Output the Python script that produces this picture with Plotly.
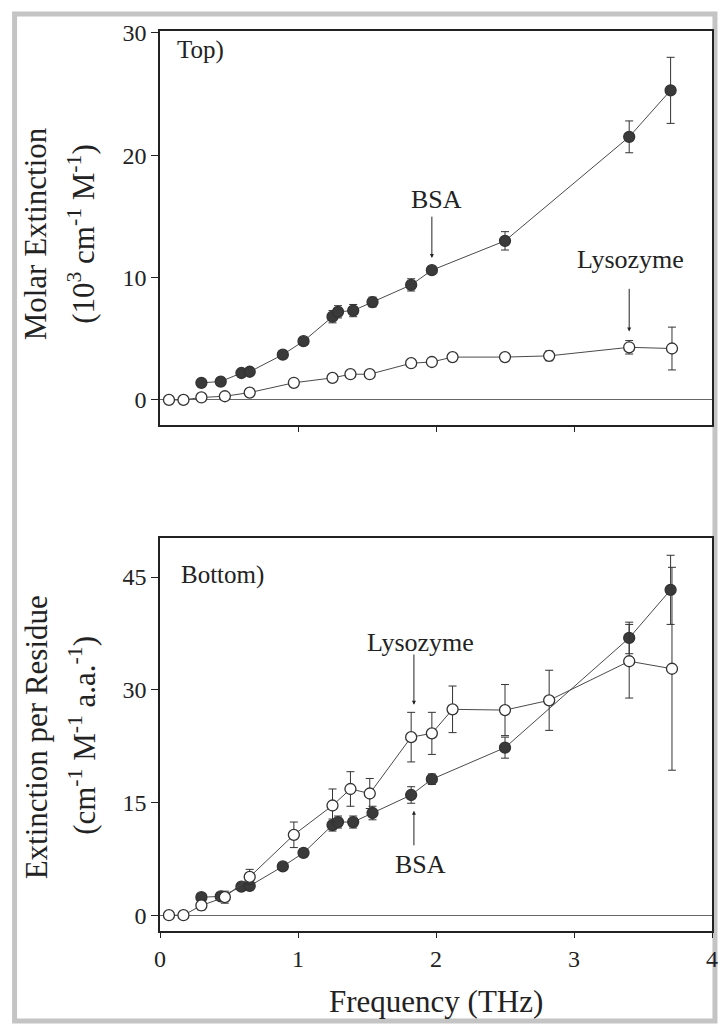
import plotly.graph_objects as go

# Frequencies (THz)
bsa_freq = [0.30, 0.44, 0.59, 0.65, 0.89, 1.04, 1.25, 1.29, 1.40, 1.54, 1.82, 1.97, 2.50, 3.40, 3.70]
lyso_freq = [0.065, 0.17, 0.30, 0.47, 0.65, 0.97, 1.25, 1.38, 1.52, 1.82, 1.97, 2.12, 2.50, 2.82, 3.40, 3.71]

# Top: molar extinction (10^3 cm^-1 M^-1)
bsa_molar = [1.4, 1.5, 2.2, 2.3, 3.7, 4.8, 6.8, 7.2, 7.3, 8.0, 9.4, 10.6, 13.0, 21.5, 25.3]
bsa_molar_err = [0.2, 0.2, 0.3, 0.3, 0.3, 0.3, 0.5, 0.5, 0.5, 0.4, 0.5, 0.3, 0.75, 1.3, 2.7]
lyso_molar = [0.0, 0.0, 0.2, 0.3, 0.6, 1.4, 1.8, 2.1, 2.1, 3.0, 3.1, 3.5, 3.5, 3.6, 4.3, 4.2]
lyso_molar_err = [0.3, 0.3, 0.3, 0.3, 0.3, 0.2, 0.2, 0.2, 0.2, 0.2, 0.2, 0.2, 0.3, 0.4, 0.55, 1.75]

# Bottom: extinction per residue (cm^-1 M^-1 a.a.^-1)
bsa_res = [2.4, 2.5, 3.8, 3.9, 6.5, 8.3, 12.0, 12.4, 12.4, 13.6, 16.0, 18.1, 22.3, 36.9, 43.3]
bsa_res_err = [0.5, 0.5, 0.5, 0.5, 0.4, 0.5, 0.8, 0.8, 0.8, 0.9, 1.1, 0.7, 1.4, 2.1, 4.6]
lyso_res = [0.0, 0.0, 1.3, 2.4, 5.1, 10.7, 14.6, 16.8, 16.2, 23.7, 24.2, 27.4, 27.3, 28.6, 33.8, 32.8]
lyso_res_err = [0.3, 0.3, 0.6, 0.8, 1.0, 1.7, 2.2, 2.3, 2.0, 3.3, 2.8, 3.1, 3.4, 4.0, 4.9, 13.5]

x_ticks = [0, 1, 2, 3, 4]
top_ticks = [0, 10, 20, 30]
bottom_ticks = [0, 15, 30, 45]

FONT = "Liberation Serif, Times New Roman, Times, serif"
INK = "#222222"
LINE = "#4a4a4a"


def series(x, y, err, filled, xa, ya):
    return go.Scatter(
        x=x, y=y, xaxis=xa, yaxis=ya, mode="lines+markers",
        line=dict(color=LINE, width=1),
        marker=dict(size=11, color="#3a3a3a" if filled else "white",
                    line=dict(color="#333333", width=1.3)),
        error_y=dict(type="data", array=err, visible=True,
                     color="#333333", thickness=1, width=4),
        showlegend=False,
    )


fig = go.Figure()
fig.add_trace(series(lyso_freq, lyso_molar, lyso_molar_err, False, "x", "y"))
fig.add_trace(series(bsa_freq, bsa_molar, bsa_molar_err, True, "x", "y"))
fig.add_trace(series(bsa_freq, bsa_res, bsa_res_err, True, "x2", "y2"))
fig.add_trace(series(lyso_freq, lyso_res, lyso_res_err, False, "x2", "y2"))

axis_common = dict(showline=True, mirror=True, linecolor=INK, linewidth=1.5,
                   showgrid=False, ticks="outside", tickcolor=INK, tickwidth=1.2,
                   ticklabeloverflow="allow",
                   tickfont=dict(family=FONT, size=24, color=INK))

# Pixel layout: plot area spans x 160..718, y 31..931
W, H = 722, 1024
L, R, T, B = 160, 4, 31, 93
PW, PH = W - L - R, H - T - B


def px(xp):
    return (xp - L) / PW


def py(yp):
    return (H - B - yp) / PH


fig.update_layout(
    width=W, height=H,
    margin=dict(l=L, r=R, t=T, b=B),
    paper_bgcolor="white", plot_bgcolor="white",
    font=dict(family=FONT, color=INK),
    xaxis=dict(range=[0, 4], tickvals=[1, 2, 3], showticklabels=False,
               ticklen=5, anchor="y", zeroline=False, **axis_common),
    yaxis=dict(range=[-2.05, 30.15], tickvals=top_ticks, ticklen=7,
               domain=[py(425), 1.0], anchor="x",
               zeroline=True, zerolinecolor="#666666", zerolinewidth=1,
               **axis_common),
    xaxis2=dict(range=[0, 4], tickvals=x_ticks, ticklen=5, anchor="y2",
                zeroline=False, **axis_common),
    yaxis2=dict(range=[-2.1, 50.2], tickvals=bottom_ticks, ticklen=7,
                domain=[0.0, py(538)], anchor="x2",
                zeroline=True, zerolinecolor="#666666", zerolinewidth=1,
                **axis_common),
)

txt = dict(family=FONT, color=INK)
ann = []
# Panel tags
ann.append(dict(x=0.11, y=28.6, xref="x", yref="y", text="Top)", showarrow=False,
                xanchor="left", yanchor="middle", font=dict(size=25, **txt)))
ann.append(dict(x=0.14, y=45.3, xref="x2", yref="y2", text="Bottom)", showarrow=False,
                xanchor="left", yanchor="middle", font=dict(size=25, **txt)))

# Top panel labels and arrows
ann.append(dict(x=2.0, y=16.4, xref="x", yref="y", text="BSA", showarrow=False,
                xanchor="center", yanchor="middle", font=dict(size=26, **txt)))
ann.append(dict(x=1.97, y=11.6, ax=1.97, ay=15.1, xref="x", yref="y", axref="x", ayref="y",
                text="", showarrow=True, arrowhead=2, arrowsize=0.8, arrowwidth=1,
                arrowcolor=INK))
ann.append(dict(x=3.41, y=11.5, xref="x", yref="y", text="Lysozyme", showarrow=False,
                xanchor="center", yanchor="middle", font=dict(size=26, **txt)))
ann.append(dict(x=3.40, y=5.6, ax=3.40, ay=9.2, xref="x", yref="y", axref="x", ayref="y",
                text="", showarrow=True, arrowhead=2, arrowsize=0.8, arrowwidth=1,
                arrowcolor=INK))

# Bottom panel labels and arrows
ann.append(dict(x=1.89, y=36.3, xref="x2", yref="y2", text="Lysozyme", showarrow=False,
                xanchor="center", yanchor="middle", font=dict(size=26, **txt)))
ann.append(dict(x=1.84, y=28.0, ax=1.84, ay=34.9, xref="x2", yref="y2", axref="x2", ayref="y2",
                text="", showarrow=True, arrowhead=2, arrowsize=0.8, arrowwidth=1,
                arrowcolor=INK))
ann.append(dict(x=1.89, y=6.7, xref="x2", yref="y2", text="BSA", showarrow=False,
                xanchor="center", yanchor="middle", font=dict(size=26, **txt)))
ann.append(dict(x=1.84, y=13.9, ax=1.84, ay=9.1, xref="x2", yref="y2", axref="x2", ayref="y2",
                text="", showarrow=True, arrowhead=2, arrowsize=0.8, arrowwidth=1,
                arrowcolor=INK))

# Axis titles
title_font = dict(size=31, **txt)
ann.append(dict(x=px(35), y=py(234), xref="paper", yref="paper", text="Molar Extinction",
                textangle=-90, showarrow=False, xanchor="center", yanchor="middle",
                font=title_font))
ann.append(dict(x=px(81), y=py(234), xref="paper", yref="paper",
                text="(10<sup>3</sup> cm<sup>-1</sup> M<sup>-1</sup>)",
                textangle=-90, showarrow=False, xanchor="center", yanchor="middle",
                font=title_font))
ann.append(dict(x=px(35), y=py(737), xref="paper", yref="paper", text="Extinction per Residue",
                textangle=-90, showarrow=False, xanchor="center", yanchor="middle",
                font=title_font))
ann.append(dict(x=px(81), y=py(735), xref="paper", yref="paper",
                text="(cm<sup>-1</sup> M<sup>-1</sup> a.a.<sup>-1</sup>)",
                textangle=-90, showarrow=False, xanchor="center", yanchor="middle",
                font=title_font))
ann.append(dict(x=px(439), y=py(1001), xref="paper", yref="paper", text="Frequency (THz)",
                showarrow=False, xanchor="center", yanchor="middle", font=title_font))

fig.update_layout(annotations=ann)

# Light grey outer frame
fig.add_shape(type="rect", xref="paper", yref="paper",
              x0=px(13), x1=px(721), y0=py(1021), y1=py(14),
              line=dict(color="#c4c4c4", width=5), fillcolor="rgba(0,0,0,0)", layer="below")

fig.write_html("out.html")
